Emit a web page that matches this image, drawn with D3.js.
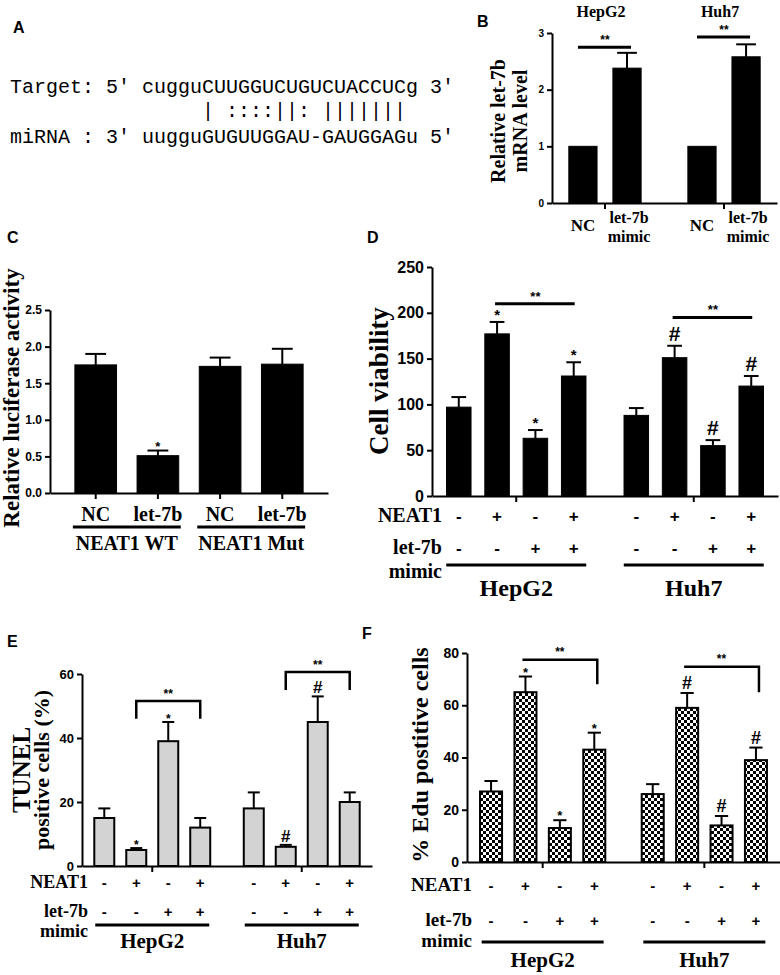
<!DOCTYPE html>
<html><head><meta charset="utf-8">
<script src="https://cdn.jsdelivr.net/npm/d3@7"></script>
<style>body{margin:0;background:#fff} svg{display:block}</style>
</head><body>
<svg id="fig" width="780" height="975"></svg>
<script>
// ---------------- data ----------------
const seqTarget = "Target: 5' cugguCUUGGUCUGUCUACCUCg 3'";
const seqPair   = "                | ::::||: |||||||";
const seqMirna  = "miRNA : 3' uugguGUGUUGGAU-GAUGGAGu 5'";

const bGroups = ["HepG2", "Huh7"];
const bCats = ["NC", "let-7b mimic", "NC", "let-7b mimic"];
const bValues = [1, 2.38, 1, 2.58];
const bErrors = [0, 0.27, 0, 0.22];
const bTicks = [0, 1, 2, 3];
const bSig = [[0, 1, 2.75], [2, 3, 2.93]];

const cCats = ["NC", "let-7b", "NC", "let-7b"];
const cGroups = ["NEAT1 WT", "NEAT1 Mut"];
const cValues = [1.75, 0.51, 1.73, 1.76];
const cErrors = [0.15, 0.07, 0.12, 0.21];
const cMarks = ["", "*", "", ""];
const cTicks = [0, 0.5, 1, 1.5, 2, 2.5];

const cellLines = ["HepG2", "Huh7"];
const neat1Row = ["-", "+", "-", "+", "-", "+", "-", "+"];
const let7bRow = ["-", "-", "+", "+", "-", "-", "+", "+"];

const dValues = [97, 177, 63, 131, 88, 151, 55, 120];
const dErrors = [11, 13, 9, 15, 8, 13, 6, 11];
const dMarks = ["", "*", "*", "*", "", "#", "#", "#"];
const dTicks = [0, 50, 100, 150, 200, 250];
const dSig = [[1, 3, 210], [5, 7, 195]];

const eValues = [15, 5, 39, 12, 18, 6, 45, 20];
const eErrors = [3, 0.6, 6, 3, 5, 0.6, 8, 3];
const eMarks = ["", "*", "*", "", "", "#", "#", ""];
const eTicks = [0, 20, 40, 60];
const eSig = [[1, 3, 51.6, 46], [5, 7, 60.6, 55]];

const fValues = [27, 65, 13, 43, 26, 59, 14, 39];
const fErrors = [4, 6, 3, 6.5, 3.8, 5.7, 3.6, 4.8];
const fMarks = ["", "*", "*", "*", "", "#", "#", "#"];
const fTicks = [0, 20, 40, 60, 80];
const fSig = [[1, 3, 77.4, 68], [5, 7, 74.7, 65]];

// ---------------- helpers ----------------
const svg = d3.select("#fig");
const SERIF = "'Liberation Serif','Times New Roman',serif";
const SANS = "'Liberation Sans',Arial,sans-serif";
const MONO = "'Liberation Mono','Courier New',monospace";

const defs = svg.append("defs");
const pat = defs.append("pattern").attr("id", "checker").attr("patternUnits", "userSpaceOnUse")
  .attr("width", 6).attr("height", 6);
pat.append("rect").attr("width", 6).attr("height", 6).attr("fill", "#fff");
pat.append("rect").attr("width", 3).attr("height", 3).attr("fill", "#000");
pat.append("rect").attr("x", 3).attr("y", 3).attr("width", 3).attr("height", 3).attr("fill", "#000");

function txt(x, y, s, opt) {
  return svg.append("text").attr("x", x).attr("y", y)
    .attr("font-family", opt.ff || SERIF).attr("font-weight", opt.fw || "bold")
    .attr("font-size", opt.fs).attr("text-anchor", opt.anchor || "middle")
    .attr("fill", "#000").text(s);
}
function rtxt(cx, cy, s, opt) {
  return svg.append("text").attr("transform", `translate(${cx},${cy}) rotate(-90)`)
    .attr("font-family", opt.ff || SERIF).attr("font-weight", "bold")
    .attr("font-size", opt.fs).attr("text-anchor", "middle").attr("fill", "#000").text(s);
}
function line(x1, y1, x2, y2, w) {
  svg.append("line").attr("x1", x1).attr("y1", y1).attr("x2", x2).attr("y2", y2)
    .attr("stroke", "#000").attr("stroke-width", w);
}
function grouped(groups, nPer, range, pi, po, p) {
  const outer = d3.scaleBand().domain(groups).range(range).paddingInner(pi).paddingOuter(po);
  const inner = d3.scaleBand().domain(d3.range(nPer)).range([0, outer.bandwidth()]).padding(p);
  const gOf = i => groups[Math.floor(i / nPer)];
  return {
    axisScale: outer, w: inner.bandwidth(),
    x: i => outer(gOf(i)) + inner(i % nPer),
    cx: i => outer(gOf(i)) + inner(i % nPer) + inner.bandwidth() / 2,
    gc: g => outer(g) + outer.bandwidth() / 2
  };
}
function flat(cats, range, pi, po) {
  const band = d3.scaleBand().domain(d3.range(cats.length)).range(range).paddingInner(pi).paddingOuter(po);
  return { axisScale: band, w: band.bandwidth(), x: i => band(i), cx: i => band(i) + band.bandwidth() / 2 };
}
function yAxis(y, ticks, x0, fs, fmt) {
  svg.append("g").attr("transform", `translate(${x0},0)`)
    .call(d3.axisLeft(y).tickValues(ticks).tickSize(5).tickSizeOuter(0).tickPadding(3)
      .tickFormat(fmt || d3.format("d")))
    .call(s => {
      s.select(".domain").attr("stroke-width", 2);
      s.selectAll(".tick line").attr("stroke-width", 2);
      s.selectAll("text").attr("font-family", SANS).attr("font-weight", "bold")
        .attr("font-size", fs).attr("fill", "#000");
    });
}
function xAxis(xs, y) {
  svg.append("g").attr("transform", `translate(0,${y(0)})`)
    .call(d3.axisBottom(xs.axisScale).tickSize(6).tickSizeOuter(0).tickFormat(""))
    .call(s => {
      s.select(".domain").attr("stroke-width", 2);
      s.selectAll(".tick line").attr("stroke-width", 2);
    });
}
function bars(vals, errs, xs, y, fill, sw, capF) {
  svg.append("g").selectAll("rect").data(vals).join("rect")
    .attr("x", (d, i) => xs.x(i)).attr("y", d => y(d))
    .attr("width", xs.w).attr("height", d => y(0) - y(d))
    .attr("fill", fill).attr("stroke", "#000").attr("stroke-width", sw);
  vals.forEach((v, i) => {
    if (!errs[i]) return;
    const cx = xs.cx(i), top = y(v + errs[i]), cap = xs.w * capF;
    line(cx, y(v), cx, top, 2);
    line(cx - cap, top, cx + cap, top, 2);
  });
}
function marks(vals, errs, ms, xs, y, star, hash) {
  ms.forEach((m, i) => {
    if (!m) return;
    const top = y(vals[i] + errs[i]);
    const o = m === "*" ? star : hash;
    txt(xs.cx(i), top - o.gap, m, { ff: SANS, fs: o.fs });
  });
}
function rows(xs, o) {
  neat1Row.forEach((s, i) => txt(xs.cx(i), o.neatY, s, { ff: SANS, fs: o.signFs }));
  let7bRow.forEach((s, i) => txt(xs.cx(i), o.letY, s, { ff: SANS, fs: o.signFs }));
  txt(o.labX, o.neatY, "NEAT1", { fs: o.labFs, anchor: "end" });
  txt(o.labX, o.letY, "let-7b", { fs: o.labFs, anchor: "end" });
  txt(o.labX, o.mimY, "mimic", { fs: o.labFs, anchor: "end" });
  cellLines.forEach(g => {
    const c = xs.gc(g);
    line(c - o.half, o.lineY, c + o.half, o.lineY, 3);
    txt(c, o.grpY, g, { fs: o.grpFs });
  });
}

// ---------------- Panel A ----------------
txt(13, 33, "A", { ff: SANS, fs: 16, anchor: "start" });
[[seqTarget, 93], [seqPair, 117], [seqMirna, 143]].forEach(([s, yy]) => {
  txt(10, yy, s, { ff: MONO, fw: "normal", fs: 20, anchor: "start" }).style("white-space", "pre");
});

// ---------------- Panel B ----------------
txt(477, 27, "B", { ff: SANS, fs: 16, anchor: "start" });
{
  const y = d3.scaleLinear().domain([0, 3]).range([203, 33]);
  const xs = grouped(bGroups, 2, [552, 777], 0.126, 0.008, 0.36);
  bars(bValues, bErrors, xs, y, "#000", 1, 0.35);
  yAxis(y, bTicks, 552, 10);
  xAxis(xs, y);
  bGroups.forEach(g => txt(xs.gc(g) - 4, 17, g, { fs: 16 }));
  bSig.forEach(([a, b, lv]) => {
    line(xs.cx(a) - 5, y(lv), xs.cx(b) + 4, y(lv), 3);
    txt((xs.cx(a) + xs.cx(b)) / 2, y(lv) - 3, "**", { ff: SANS, fs: 12 });
  });
  bCats.forEach((c, i) => {
    const parts = c.split(" ");
    if (parts.length === 1) txt(xs.cx(i), 231, c, { fs: 17 });
    else { txt(xs.cx(i) + 2, 223, parts[0], { fs: 16 }); txt(xs.cx(i) + 2, 242, parts[1], { fs: 16 }); }
  });
  rtxt(505, 121, "Relative let-7b", { fs: 20 });
  rtxt(527, 121, "mRNA level", { fs: 20 });
}

// ---------------- Panel C ----------------
txt(7, 243, "C", { ff: SANS, fs: 16, anchor: "start" });
{
  const y = d3.scaleLinear().domain([0, 2.5]).range([493, 310]);
  const xs = flat(cCats, [50, 328], 0.33, 0.4);
  bars(cValues, cErrors, xs, y, "#000", 1, 0.25);
  yAxis(y, cTicks, 50, 12, d3.format(".1f"));
  xAxis(xs, y);
  marks(cValues, cErrors, cMarks, xs, y, { fs: 13, gap: 0 }, { fs: 16, gap: 3 });
  cCats.forEach((c, i) => txt(xs.cx(i), 521, c, { fs: 20 }));
  cGroups.forEach((g, k) => {
    const a = xs.x(2 * k) - 2, b = xs.x(2 * k + 1) + xs.w + 2;
    line(a, 527, b, 527, 3);
    txt((a + b) / 2, 550, g, { fs: 20 });
  });
  rtxt(19, 398, "Relative luciferase activity", { fs: 23 });
}

// ---------------- Panel D ----------------
txt(367, 243, "D", { ff: SANS, fs: 16, anchor: "start" });
{
  const y = d3.scaleLinear().domain([0, 250]).range([496, 267]);
  const xs = grouped(cellLines, 4, [432, 778], 0.059, 0.004, 0.36);
  bars(dValues, dErrors, xs, y, "#000", 1, 0.3);
  yAxis(y, dTicks, 432, 16);
  xAxis(xs, y);
  marks(dValues, dErrors, dMarks, xs, y, { fs: 15, gap: 2 }, { fs: 21, gap: 5 });
  dSig.forEach(([a, b, lv]) => {
    line(xs.cx(a) - 2, y(lv), xs.cx(b) + 1, y(lv), 3);
    txt((xs.cx(a) + xs.cx(b)) / 2, y(lv) - 3, "**", { ff: SANS, fs: 13 });
  });
  rows(xs, { neatY: 522, letY: 554, mimY: 578, lineY: 565, grpY: 596, labX: 442,
    signFs: 17, labFs: 20, grpFs: 24, half: 70 });
  rtxt(388, 381, "Cell viability", { fs: 27 });
}

// ---------------- Panel E ----------------
txt(7, 647, "E", { ff: SANS, fs: 16, anchor: "start" });
{
  const y = d3.scaleLinear().domain([0, 60]).range([866, 674]);
  const xs = grouped(cellLines, 4, [82, 372], 0.064, 0.002, 0.375);
  bars(eValues, eErrors, xs, y, "#d3d3d3", 2, 0.3);
  yAxis(y, eTicks, 82, 13);
  xAxis(xs, y);
  marks(eValues, eErrors, eMarks, xs, y, { fs: 12, gap: -1 }, { fs: 17, gap: 3 });
  eSig.forEach(([a, b, lv, leg]) => {
    svg.append("path").attr("d", `M${xs.cx(a)},${y(leg)}V${y(lv)}H${xs.cx(b)}V${y(leg)}`)
      .attr("fill", "none").attr("stroke", "#000").attr("stroke-width", 2.5);
    txt((xs.cx(a) + xs.cx(b)) / 2, y(lv) - 3, "**", { ff: SANS, fs: 12 });
  });
  rows(xs, { neatY: 888, letY: 917, mimY: 937, lineY: 925, grpY: 948, labX: 88,
    signFs: 15, labFs: 18, grpFs: 21, half: 57 });
  rtxt(30, 770, "TUNEL", { fs: 25 });
  rtxt(49, 770, "positive cells (%)", { fs: 22 });
}

// ---------------- Panel F ----------------
txt(362, 639, "F", { ff: SANS, fs: 16, anchor: "start" });
{
  const y = d3.scaleLinear().domain([0, 80]).range([862, 653]);
  const xs = grouped(cellLines, 4, [467, 780], 0.072, 0.004, 0.36);
  bars(fValues, fErrors, xs, y, "url(#checker)", 2, 0.3);
  yAxis(y, fTicks, 467, 14);
  xAxis(xs, y);
  marks(fValues, fErrors, fMarks, xs, y, { fs: 13, gap: 0 }, { fs: 18, gap: 4 });
  fSig.forEach(([a, b, lv, leg]) => {
    svg.append("path").attr("d", `M${xs.cx(a) - 3},${y(lv)}H${xs.cx(b) + 3}V${y(leg)}`)
      .attr("fill", "none").attr("stroke", "#000").attr("stroke-width", 2.5);
    txt((xs.cx(a) + xs.cx(b)) / 2, y(lv) - 4, "**", { ff: SANS, fs: 12 });
  });
  rows(xs, { neatY: 891, letY: 926, mimY: 947, lineY: 942, grpY: 967, labX: 472,
    signFs: 15, labFs: 19, grpFs: 21, half: 61 });
  rtxt(428, 755, "% Edu postitive cells", { fs: 24 });
}
</script>
</body></html>
